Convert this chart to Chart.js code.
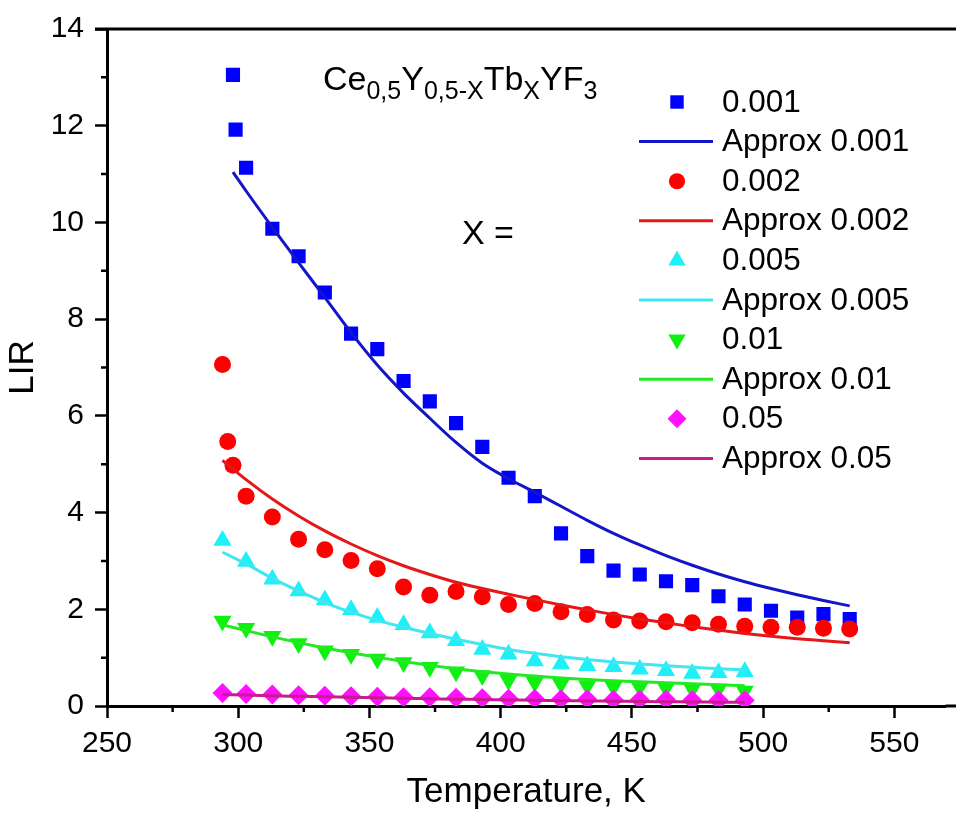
<!DOCTYPE html>
<html>
<head>
<meta charset="utf-8">
<script src="https://cdn.jsdelivr.net/npm/chart.js@4.4.1/dist/chart.umd.min.js"></script>
<style>
  html, body { margin: 0; padding: 0; background: #fff; }
  #lir-chart { display: block; }
</style>
</head>
<body>
<canvas id="lir-chart" width="956" height="813"></canvas>
<script>
// measured points, Temperature (K) -> LIR
const tempBlue = [298, 299, 303, 313, 323, 333, 343, 353, 363, 373, 383, 393, 403, 413, 423, 433, 443, 453, 463, 473, 483, 493, 503, 513, 523, 533];
const lir001 = [13.05, 11.92, 11.13, 9.87, 9.30, 8.55, 7.70, 7.38, 6.72, 6.30, 5.85, 5.36, 4.72, 4.34, 3.57, 3.10, 2.80, 2.72, 2.58, 2.50, 2.27, 2.10, 1.97, 1.83, 1.90, 1.80];

const tempRed = [294, 296, 298, 303, 313, 323, 333, 343, 353, 363, 373, 383, 393, 403, 413, 423, 433, 443, 453, 463, 473, 483, 493, 503, 513, 523, 533];
const lir002 = [7.06, 5.47, 4.98, 4.34, 3.91, 3.45, 3.23, 3.01, 2.84, 2.46, 2.29, 2.37, 2.26, 2.10, 2.12, 1.95, 1.89, 1.78, 1.76, 1.74, 1.72, 1.69, 1.65, 1.63, 1.63, 1.61, 1.59];

const tempShort = [294, 303, 313, 323, 333, 343, 353, 363, 373, 383, 393, 403, 413, 423, 433, 443, 453, 463, 473, 483, 493];
const lir005 = [3.42, 2.99, 2.62, 2.38, 2.19, 1.99, 1.83, 1.68, 1.51, 1.35, 1.17, 1.07, 0.93, 0.87, 0.83, 0.81, 0.76, 0.73, 0.67, 0.69, 0.71];
const lir01  = [1.76, 1.61, 1.44, 1.29, 1.14, 1.07, 0.97, 0.90, 0.80, 0.71, 0.63, 0.53, 0.49, 0.46, 0.42, 0.40, 0.39, 0.37, 0.35, 0.35, 0.31];
const lir05  = [0.27, 0.25, 0.24, 0.22, 0.21, 0.20, 0.19, 0.18, 0.18, 0.17, 0.16, 0.15, 0.15, 0.14, 0.14, 0.13, 0.13, 0.13, 0.12, 0.12, 0.12];

// approximation curves
const fitTempBlue = [298, 303, 313, 323, 333, 343, 353, 363, 373, 383, 393, 403, 413, 423, 433, 443, 453, 463, 473, 483, 493, 503, 513, 523, 533];
const fit001 = [11.04, 10.65, 9.90, 9.17, 8.45, 7.72, 7.05, 6.47, 5.95, 5.45, 5.02, 4.70, 4.42, 4.13, 3.84, 3.57, 3.33, 3.11, 2.91, 2.73, 2.57, 2.43, 2.30, 2.18, 2.07];
const fitTempRed = [294, 303, 313, 323, 333, 343, 353, 363, 373, 383, 393, 403, 413, 423, 433, 443, 453, 463, 473, 483, 493, 503, 513, 523, 533];
const fit002 = [5.08, 4.68, 4.28, 3.93, 3.62, 3.35, 3.11, 2.90, 2.72, 2.56, 2.43, 2.31, 2.20, 2.09, 1.99, 1.89, 1.80, 1.72, 1.64, 1.57, 1.50, 1.44, 1.39, 1.35, 1.31];
const fit005 = [3.18, 2.94, 2.64, 2.38, 2.14, 1.94, 1.77, 1.63, 1.50, 1.38, 1.27, 1.17, 1.09, 1.02, 0.96, 0.91, 0.87, 0.83, 0.80, 0.77, 0.75];
const fit01  = [1.68, 1.56, 1.43, 1.31, 1.20, 1.10, 1.01, 0.92, 0.84, 0.77, 0.71, 0.66, 0.62, 0.58, 0.55, 0.52, 0.50, 0.48, 0.46, 0.44, 0.42];
const fit05  = [0.24, 0.225, 0.21, 0.20, 0.19, 0.18, 0.17, 0.16, 0.15, 0.14, 0.135, 0.125, 0.12, 0.11, 0.105, 0.10, 0.095, 0.09, 0.085, 0.08, 0.075];

const xTicks = [250, 300, 350, 400, 450, 500, 550];
const yTicks = [0, 2, 4, 6, 8, 10, 12, 14];

const FONT = '"Liberation Sans", Arial, sans-serif';
const pts = (xs, ys) => xs.map((x, i) => ({ x, y: ys[i] }));

function markers(label, xs, ys, color, style, radius, rotation) {
  return {
    label, data: pts(xs, ys), showLine: false,
    pointStyle: style, pointRadius: radius, pointRotation: rotation || 0,
    pointBackgroundColor: color, pointBorderWidth: 0, backgroundColor: color, borderColor: color,
  };
}
function curve(label, xs, ys, color) {
  return {
    label, data: pts(xs, ys), showLine: true, pointRadius: 0,
    borderColor: color, borderWidth: 3, cubicInterpolationMode: 'monotone', fill: false,
  };
}

const datasets = [
  markers('0.001', tempBlue, lir001, '#0000ff', 'rect', 10),
  curve('Approx 0.001', fitTempBlue, fit001, '#1414c8'),
  markers('0.002', tempRed, lir002, '#ff0000', 'circle', 8.5),
  curve('Approx 0.002', fitTempRed, fit002, '#e41818'),
  markers('0.005', tempShort, lir005, '#1ef0f8', 'triangle', 10.5),
  curve('Approx 0.005', tempShort, fit005, '#40e6f0'),
  markers('0.01', tempShort, lir01, '#10f010', 'triangle', 10.5, 180),
  curve('Approx 0.01', tempShort, fit01, '#22ea22'),
  markers('0.05', tempShort, lir05, '#ff10ff', 'rectRot', 10),
  curve('Approx 0.05', tempShort, fit05, '#c81c8c'),
];
datasets.forEach((d, i) => { d.order = datasets.length - i; });

// legend inside the plot, Origin-style
const insideLegend = {
  id: 'insideLegend',
  afterDatasetsDraw(chart) {
    const ctx = chart.ctx;
    ctx.save();
    ctx.font = `31.5px ${FONT}`;
    ctx.textBaseline = 'middle';
    ctx.textAlign = 'left';
    chart.data.datasets.forEach((d, i) => {
      const y = 102 + i * 39.6;
      if (d.showLine) {
        ctx.strokeStyle = d.borderColor;
        ctx.lineWidth = 3;
        ctx.beginPath();
        ctx.moveTo(639, y);
        ctx.lineTo(713, y);
        ctx.stroke();
      } else {
        ctx.fillStyle = d.pointBackgroundColor;
        Chart.helpers.drawPoint(ctx, {
          pointStyle: d.pointStyle, radius: d.pointRadius * 0.95,
          rotation: d.pointRotation, borderWidth: 0,
        }, 677, y);
      }
      ctx.fillStyle = '#000';
      ctx.fillText(d.label, 722, y + 1);
    });
    ctx.restore();
  },
};

// frame top line, minor ticks and the formula annotation
const decorations = {
  id: 'decorations',
  afterDraw(chart) {
    const ctx = chart.ctx;
    const { left, right, top, bottom } = chart.chartArea;
    const xs = chart.scales.x, ys = chart.scales.y;
    ctx.save();
    ctx.strokeStyle = '#000';
    ctx.lineWidth = 3;
    ctx.beginPath();
    ctx.moveTo(left - 12, top);
    ctx.lineTo(chart.width, top);
    ctx.moveTo(right, bottom);
    ctx.lineTo(chart.width, bottom);
    ctx.stroke();

    ctx.lineWidth = 2.5;
    ctx.beginPath();
    for (let v = 275; v < xs.max; v += 50) {
      const px = xs.getPixelForValue(v);
      ctx.moveTo(px, bottom);
      ctx.lineTo(px, bottom + 6);
    }
    for (let v = 1; v < ys.max; v += 2) {
      const py = ys.getPixelForValue(v);
      ctx.moveTo(left, py);
      ctx.lineTo(left - 6, py);
    }
    ctx.stroke();

    // Ce0,5Y0,5-XTbXYF3
    const parts = [['Ce', 0], ['0,5', 1], ['Y', 0], ['0,5-X', 1], ['Tb', 0], ['X', 1], ['YF', 0], ['3', 1]];
    let x = 323;
    ctx.fillStyle = '#000';
    ctx.textBaseline = 'alphabetic';
    ctx.textAlign = 'left';
    for (const [txt, sub] of parts) {
      ctx.font = sub ? `25px ${FONT}` : `34px ${FONT}`;
      ctx.fillText(txt, x, sub ? 99 : 90);
      x += ctx.measureText(txt).width;
    }
    ctx.font = `34px ${FONT}`;
    ctx.fillText('X =', 462, 244);
    ctx.restore();
  },
};

new Chart(document.getElementById('lir-chart').getContext('2d'), {
  type: 'scatter',
  data: { datasets },
  options: {
    responsive: false,
    animation: false,
    layout: { padding: { top: 20, right: 0, left: 0, bottom: 0 } },
    plugins: { legend: { display: false }, tooltip: { enabled: false } },
    scales: {
      x: {
        type: 'linear', min: 250, max: 569.5,
        afterBuildTicks: (s) => { s.ticks = xTicks.map(v => ({ value: v })); },
        afterFit: (s) => { s.height = 107; s.paddingLeft = 0; s.paddingRight = 0; },
        grid: { drawOnChartArea: false, drawTicks: true, tickLength: 12, tickWidth: 2.5, tickColor: '#000' },
        border: { color: '#000', width: 3 },
        ticks: { color: '#000', padding: 8, font: { size: 30, family: FONT } },
        title: { display: true, text: 'Temperature, K', color: '#000', padding: { top: 0, bottom: 0 }, font: { size: 35, family: FONT } },
      },
      y: {
        type: 'linear', min: 0, max: 14,
        afterBuildTicks: (s) => { s.ticks = yTicks.map(v => ({ value: v })); },
        afterFit: (s) => { s.width = 107; },
        grid: { drawOnChartArea: false, drawTicks: true, tickLength: 12, tickWidth: 2.5, tickColor: '#000' },
        border: { color: '#000', width: 3 },
        ticks: { color: '#000', padding: 11, font: { size: 30, family: FONT } },
        title: { display: true, text: 'LIR', color: '#000', padding: { top: 2, bottom: 0 }, font: { size: 35, family: FONT } },
      },
    },
  },
  plugins: [insideLegend, decorations],
});
</script>
</body>
</html>
